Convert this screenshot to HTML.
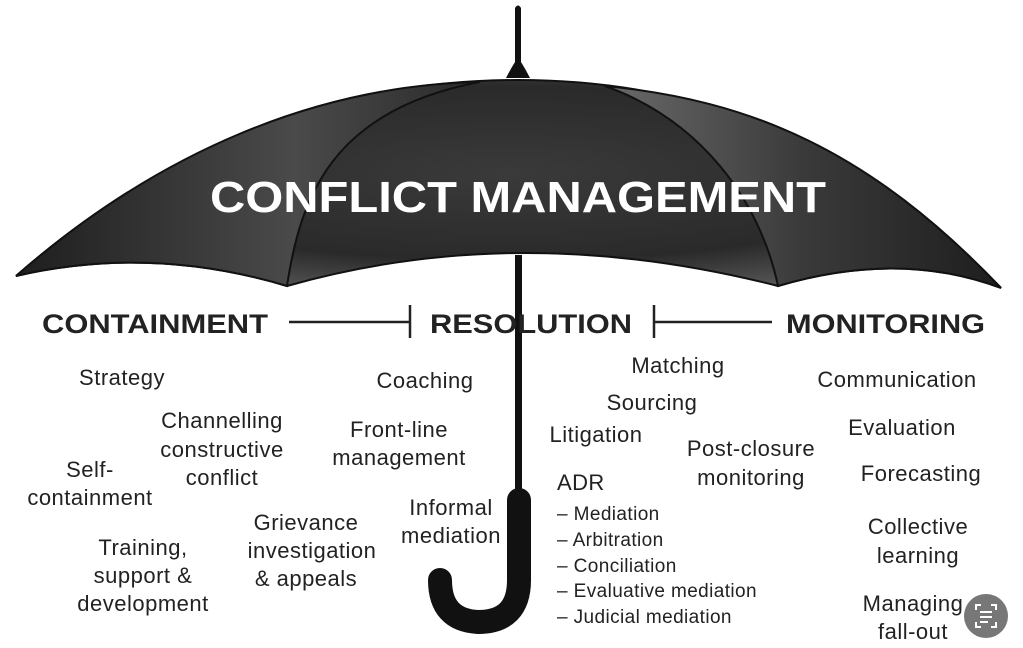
<!DOCTYPE html>
<html><head><meta charset="utf-8"><style>
html,body{margin:0;padding:0;background:#fff;}
svg{display:block;}
text{font-family:"Liberation Sans",sans-serif;fill:#222;}
</style></head><body>
<svg width="1023" height="648" viewBox="0 0 1023 648" xmlns="http://www.w3.org/2000/svg">
<defs>
<radialGradient id="g" cx="0.5" cy="0.45" r="0.6">
<stop offset="0" stop-color="#3a3a3a"/><stop offset="0.7" stop-color="#2a2a2a"/><stop offset="1" stop-color="#555"/>
</radialGradient>
<linearGradient id="gl" x1="0" x2="1" y1="0" y2="0">
<stop offset="0" stop-color="#1e1e1e"/><stop offset="0.6" stop-color="#4a4a4a"/><stop offset="1" stop-color="#2a2a2a"/>
</linearGradient>
<linearGradient id="gr" x1="0" x2="1" y1="0" y2="0">
<stop offset="0" stop-color="#6a6a6a"/><stop offset="0.5" stop-color="#3a3a3a"/><stop offset="1" stop-color="#1e1e1e"/>
</linearGradient>
</defs>
<path d="M515,8 Q518,3 521,8 L521,62 Q526,70 530,78 L506,78 Q510,70 515,62 Z" fill="#111"/>
<path d="M518,80 C330,80 160,150 16,276 Q150,245 287,286 Q520,220 778,286 Q900,250 1001,288 C870,150 710,80 518,80 Z" fill="url(#g)" stroke="#111" stroke-width="2"/>
<path d="M480,82 C330,110 300,200 287,286 Q150,245 16,276 C160,150 320,85 480,82 Z" fill="url(#gl)" stroke="#111" stroke-width="2"/>
<path d="M605,86 C700,120 760,200 778,286 Q900,250 1001,288 C870,150 750,100 605,86 Z" fill="url(#gr)" stroke="#111" stroke-width="2"/>
<text x="518" y="212" text-anchor="middle" font-size="44" font-weight="bold" style="fill:#fff" textLength="616" lengthAdjust="spacingAndGlyphs">CONFLICT MANAGEMENT</text>
<rect x="515" y="255" width="7" height="250" fill="#111"/>
<path d="M519,500 L519,580 Q519,622 478,622 Q440,620 440,580" fill="none" stroke="#111" stroke-width="24" stroke-linecap="round"/>
<line x1="289" y1="322" x2="410" y2="322" stroke="#222" stroke-width="2.5"/>
<line x1="410" y1="305" x2="410" y2="338" stroke="#222" stroke-width="2.5"/>
<line x1="654" y1="322" x2="772" y2="322" stroke="#222" stroke-width="2.5"/>
<line x1="654" y1="305" x2="654" y2="338" stroke="#222" stroke-width="2.5"/>
<g font-weight="bold" font-size="27">
<text x="42" y="333" textLength="226" lengthAdjust="spacingAndGlyphs">CONTAINMENT</text>
<text x="430" y="333" textLength="202" lengthAdjust="spacingAndGlyphs">RESOLUTION</text>
<text x="786" y="333" textLength="199" lengthAdjust="spacingAndGlyphs">MONITORING</text>
</g>
<g font-size="22" text-anchor="middle" letter-spacing="0.5">
<text x="122" y="385">Strategy</text>
<text x="222" y="428">Channelling</text>
<text x="222" y="457">constructive</text>
<text x="222" y="485">conflict</text>
<text x="90" y="477">Self-</text>
<text x="90" y="505">containment</text>
<text x="143" y="555">Training,</text>
<text x="143" y="583">support &amp;</text>
<text x="143" y="611">development</text>
<text x="306" y="530">Grievance</text>
<text x="312" y="558">investigation</text>
<text x="306" y="586">&amp; appeals</text>
<text x="425" y="388">Coaching</text>
<text x="399" y="437">Front-line</text>
<text x="399" y="465">management</text>
<text x="451" y="515">Informal</text>
<text x="451" y="543">mediation</text>
<text x="678" y="373">Matching</text>
<text x="652" y="410">Sourcing</text>
<text x="596" y="442">Litigation</text>
<text x="751" y="456">Post-closure</text>
<text x="751" y="485">monitoring</text>
<text x="897" y="387">Communication</text>
<text x="902" y="435">Evaluation</text>
<text x="921" y="481">Forecasting</text>
<text x="918" y="534">Collective</text>
<text x="918" y="563">learning</text>
<text x="913" y="611">Managing</text>
<text x="913" y="639">fall-out</text>
</g>
<g font-size="19" letter-spacing="0.4">
<text x="557" y="490" font-size="22">ADR</text>
<text x="557" y="520">– Mediation</text>
<text x="557" y="546">– Arbitration</text>
<text x="557" y="572">– Conciliation</text>
<text x="557" y="597">– Evaluative mediation</text>
<text x="557" y="623">– Judicial mediation</text>
</g>
<circle cx="986" cy="616" r="22" fill="#777"/>
<g stroke="#fff" stroke-width="2" fill="none">
<path d="M976,610 v-5 h5 M991,605 h5 v5 M976,622 v5 h5 M991,627 h5 v-5"/>
<line x1="980" y1="612" x2="992" y2="612"/><line x1="980" y1="617" x2="992" y2="617"/><line x1="980" y1="622" x2="988" y2="622"/>
</g>
</svg>
</body></html>
